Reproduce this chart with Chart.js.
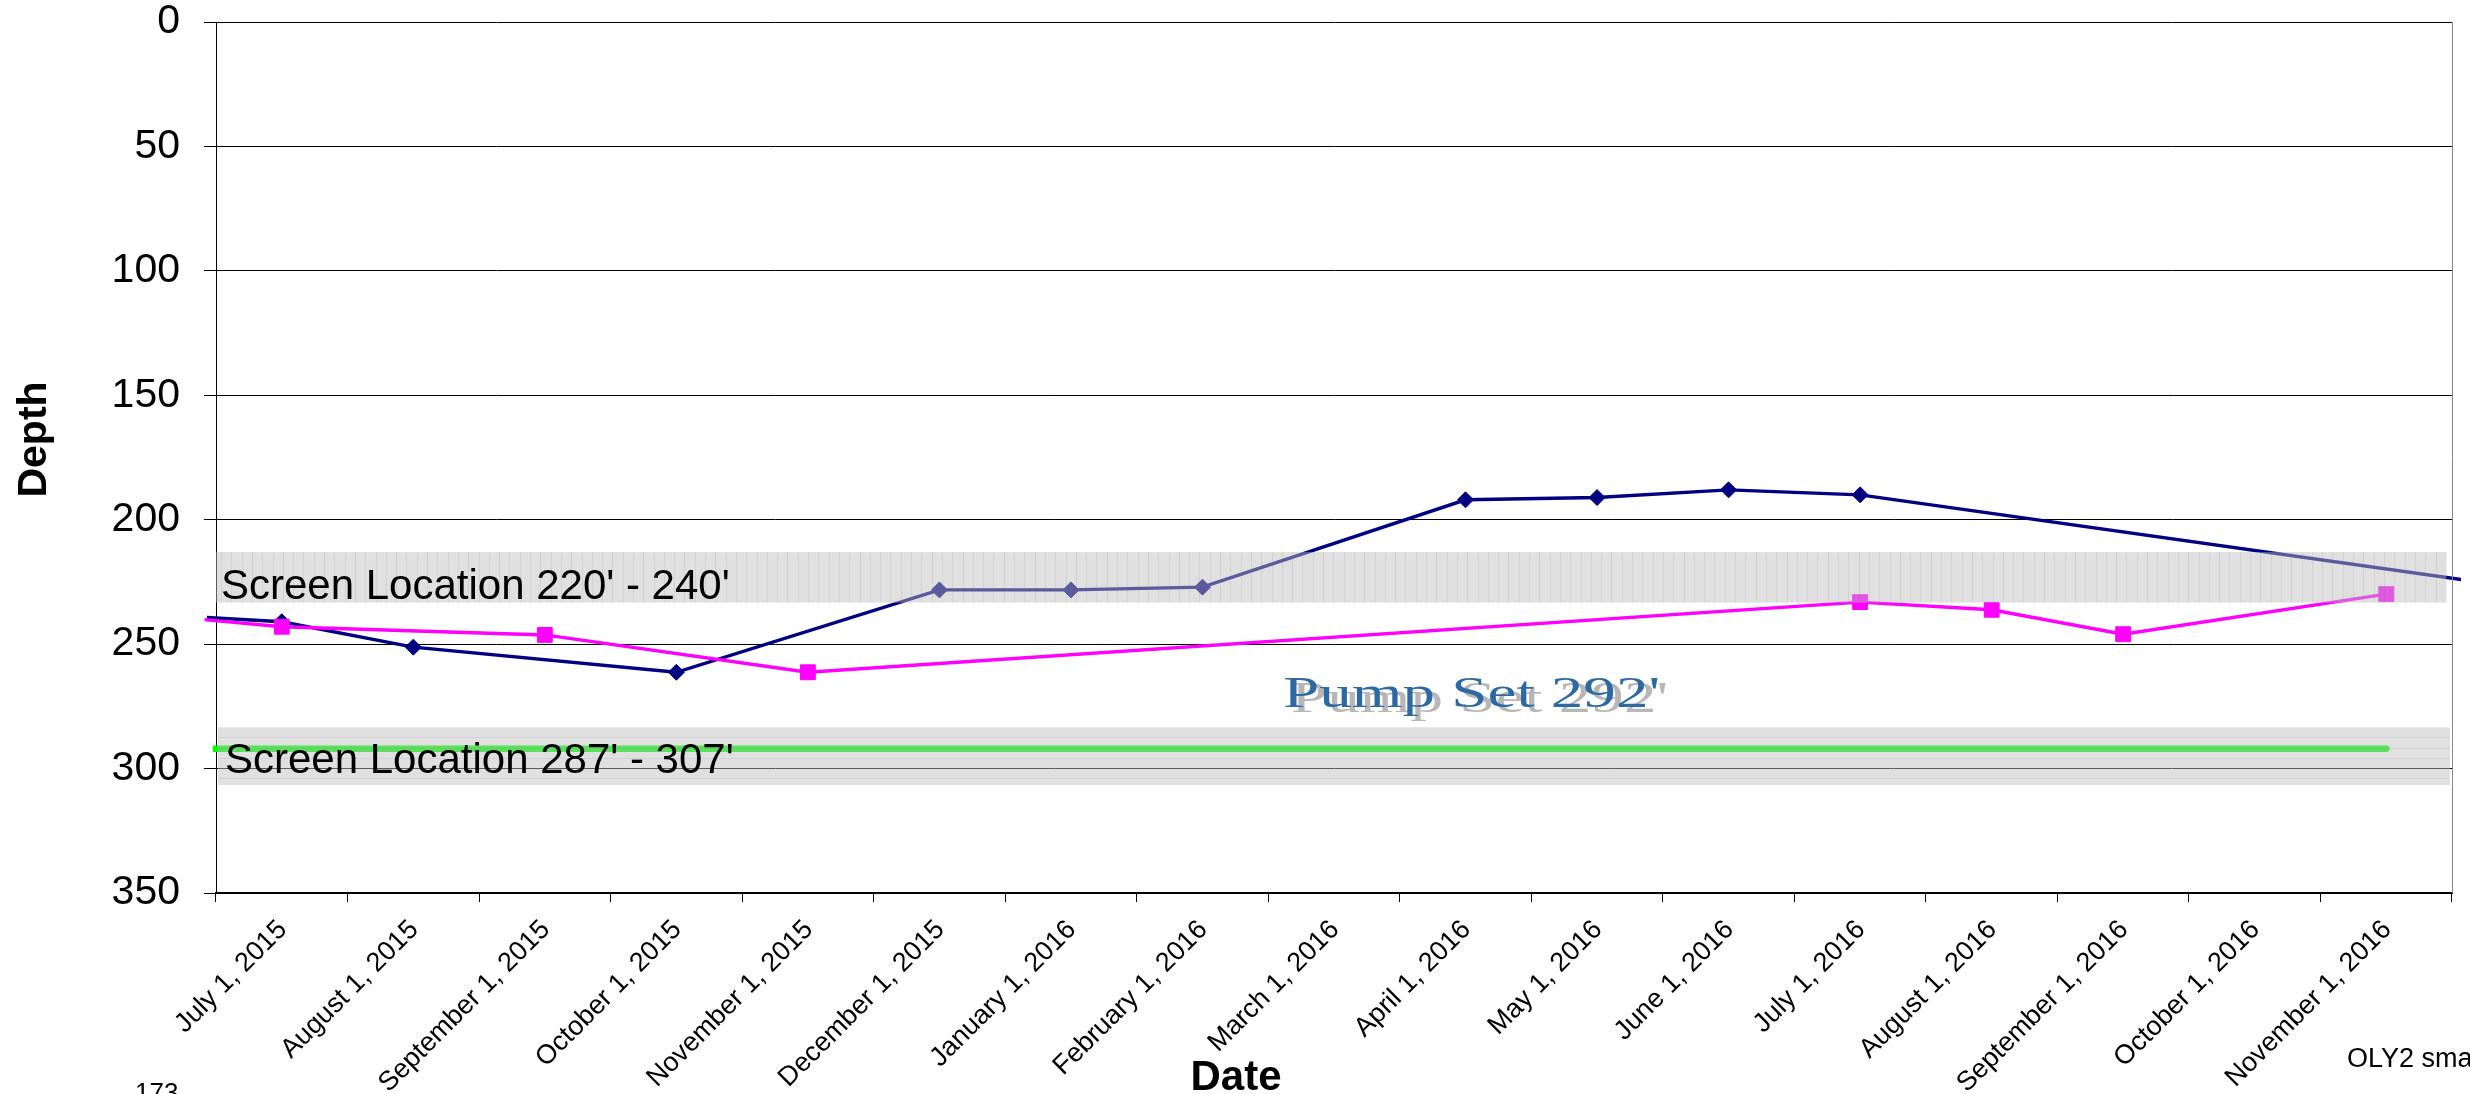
<!DOCTYPE html>
<html>
<head>
<meta charset="utf-8">
<script src="https://cdn.jsdelivr.net/npm/chart.js@4.4.1/dist/chart.umd.min.js"></script>
<style>
html,body{margin:0;padding:0;background:#fff;overflow:hidden}
canvas{display:block}
</style>
</head>
<body>
<canvas id="c" width="2470" height="1094"></canvas>
<script>
// ---- data ----
const months = ['June 1, 2015','July 1, 2015','August 1, 2015','September 1, 2015','October 1, 2015','November 1, 2015','December 1, 2015','January 1, 2016','February 1, 2016','March 1, 2016','April 1, 2016','May 1, 2016','June 1, 2016','July 1, 2016','August 1, 2016','September 1, 2016','October 1, 2016','November 1, 2016','December 1, 2016'];
const firstShownMonth = 'July 1, 2015';
const lastShownMonth = 'November 1, 2016';
const navyDepth = [238, 241, 251.2, null, 261.3, null, 228.2, 228.2, 227.1, null, 192.0, 191.1, 188.0, 190.0, null, null, null, null, 227.2];
const pinkDepth = [238.2, 243, null, 246.3, null, 261.3, null, null, null, null, null, null, null, 233.1, 236.2, 246.0, null, 229.9, null];
const pumpSetDepth = [292, 292, 292, 292, 292, 292, 292, 292, 292, 292, 292, 292, 292, 292, 292, 292, 292, 292, null];
const depthTicks = [0, 50, 100, 150, 200, 250, 300, 350];
const upperScreenBand = [213, 233.3];
const lowerScreenBand = [283.4, 306.6];
const upperScreenLabel = "Screen Location 220' - 240'";
const lowerScreenLabel = "Screen Location 287' - 307'";
const pumpLabel = "Pump Set 292'";

const SANS = '"Liberation Sans", Arial, Helvetica, sans-serif';
const SERIF = '"Liberation Serif", "Times New Roman", serif';

function drawBand(ctx, x0, x1, y0, y1, dir) {
  ctx.save();
  ctx.fillStyle = 'rgba(189,189,189,0.475)';
  ctx.fillRect(x0, y0, x1 - x0, y1 - y0);
  ctx.strokeStyle = 'rgba(120,120,120,0.14)';
  ctx.lineWidth = 1;
  ctx.beginPath();
  if (dir === 'v') {
    for (let x = x0 + 5; x < x1; x += 10.3) {
      const px = Math.round(x) + 0.5;
      ctx.moveTo(px, y0); ctx.lineTo(px, y1);
    }
  } else {
    for (let y = y0 + 10; y < y1; y += 10.3) {
      const py = Math.round(y) + 0.5;
      ctx.moveTo(x0, py); ctx.lineTo(x1, py);
    }
  }
  ctx.stroke();
  ctx.restore();
}

const overlay = {
  id: 'overlay',
  afterDatasetsDraw(chart) {
    const {ctx, chartArea: a, scales: {y}} = chart;
    drawBand(ctx, a.left, a.right - 6, y.getPixelForValue(upperScreenBand[0]), y.getPixelForValue(upperScreenBand[1]), 'v');
    drawBand(ctx, a.left + 2, a.right - 2, y.getPixelForValue(lowerScreenBand[0]), y.getPixelForValue(lowerScreenBand[1]), 'h');
    ctx.save();
    // right border of plot
    ctx.strokeStyle = '#888';
    ctx.lineWidth = 1;
    ctx.beginPath();
    ctx.moveTo(Math.round(a.right) + 0.5, a.top);
    ctx.lineTo(Math.round(a.right) + 0.5, a.bottom);
    ctx.stroke();
    // screen labels
    ctx.fillStyle = '#000';
    ctx.font = '42px ' + SANS;
    ctx.textBaseline = 'alphabetic';
    ctx.textAlign = 'left';
    ctx.fillText(upperScreenLabel, a.left + 5, y.getPixelForValue(231.9));
    ctx.fillText(lowerScreenLabel, a.left + 9, y.getPixelForValue(301.9));
    // pump set label with shadow, stretched horizontally
    const px = a.left + 1067, py = y.getPixelForValue(275.2);
    ctx.font = '44px ' + SERIF;
    ctx.save();
    ctx.translate(px + 8, py + 5);
    ctx.scale(1.48, 1);
    ctx.fillStyle = 'rgba(170,170,170,0.85)';
    ctx.fillText(pumpLabel, 0, 0);
    ctx.restore();
    ctx.save();
    ctx.translate(px, py);
    ctx.scale(1.48, 1);
    ctx.fillStyle = '#2e6aa1';
    ctx.fillText(pumpLabel, 0, 0);
    ctx.restore();
    ctx.restore();
  },
  afterDraw(chart) {
    const {ctx} = chart;
    ctx.save();
    ctx.fillStyle = '#000';
    // y axis title
    ctx.font = 'bold 41px ' + SANS;
    ctx.textAlign = 'center';
    ctx.textBaseline = 'alphabetic';
    ctx.save();
    ctx.translate(46, 439.5);
    ctx.rotate(-Math.PI / 2);
    ctx.fillText('Depth', 0, 0);
    ctx.restore();
    // x axis title
    ctx.font = 'bold 42px ' + SANS;
    ctx.fillText('Date', 1236, 1090);
    // stray texts
    ctx.textAlign = 'left';
    ctx.font = '26px ' + SANS;
    ctx.fillText('173', 135, 1101);
    ctx.font = '27px ' + SANS;
    ctx.fillText('OLY2 sma', 2347, 1067);
    ctx.restore();
  }
};

const shownMinIndex = months.indexOf(firstShownMonth);
const shownMaxIndex = months.indexOf(lastShownMonth);

new Chart(document.getElementById('c'), {
  type: 'line',
  data: {
    labels: months,
    datasets: [
      {
        label: 'Series 2',
        data: pinkDepth,
        borderColor: '#FF00FF',
        backgroundColor: '#FF00FF',
        pointBorderColor: '#FF00FF',
        pointBackgroundColor: '#FF00FF',
        borderWidth: 3.4,
        pointStyle: 'rect',
        pointRadius: 10.5,
        pointBorderWidth: 1,
        spanGaps: true,
        tension: 0,
        order: 0
      },
      {
        label: 'Series 1',
        data: navyDepth,
        borderColor: '#000080',
        backgroundColor: '#000080',
        pointBorderColor: '#000080',
        pointBackgroundColor: '#000080',
        borderWidth: 3.4,
        pointStyle: 'rectRot',
        pointRadius: 8,
        pointBorderWidth: 1,
        spanGaps: true,
        tension: 0,
        order: 1
      },
      {
        label: 'Pump Set',
        data: pumpSetDepth,
        borderColor: '#00FF00',
        backgroundColor: '#00FF00',
        borderWidth: 6.5,
        borderCapStyle: 'round',
        pointRadius: 0,
        spanGaps: true,
        tension: 0,
        order: 2
      }
    ]
  },
  options: {
    responsive: false,
    animation: false,
    devicePixelRatio: 1,
    layout: {padding: {top: 22, right: 18, left: 0, bottom: 0}},
    plugins: {legend: {display: false}, tooltip: {enabled: false}},
    scales: {
      x: {
        type: 'category',
        offset: true,
        afterDataLimits(s) { s.min = shownMinIndex; s.max = shownMaxIndex; },
        grid: {offset: true, drawOnChartArea: false, drawTicks: true, tickLength: 9, color: '#000', lineWidth: 1},
        border: {display: true, color: '#000', width: 2},
        ticks: {autoSkip: false, minRotation: 45, maxRotation: 45, padding: 12, labelOffset: 1, color: '#000', font: {size: 27, family: SANS}},
        afterFit(s) { s.height = 201; s.paddingLeft = 0; s.paddingRight = 0; }
      },
      y: {
        reverse: true,
        min: 0,
        max: 350,
        afterBuildTicks(s) { s.ticks = depthTicks.map(v => ({value: v})); },
        ticks: {padding: 24, color: '#000', font: {size: 41, family: SANS, lineHeight: 1}},
        grid: {color: '#000', lineWidth: 1, tickLength: 12, drawTicks: true},
        border: {display: true, color: '#000', width: 1},
        afterFit(s) { s.width = 216; s.paddingTop = 0; s.paddingBottom = 0; }
      }
    }
  },
  plugins: [overlay]
});
</script>
</body>
</html>
